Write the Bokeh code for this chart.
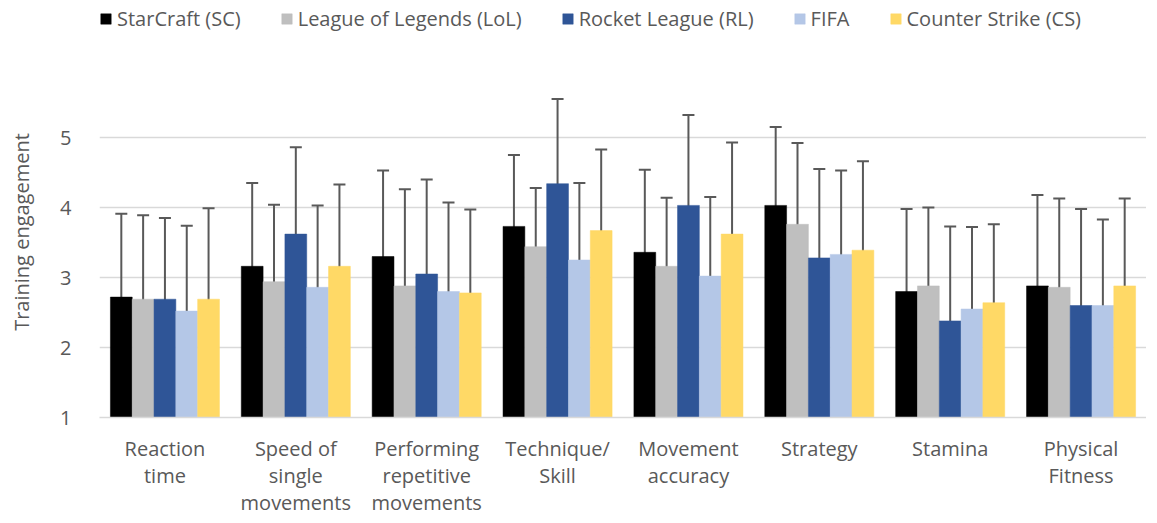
from bokeh.plotting import figure
from bokeh.layouts import column
from bokeh.models import (ColumnDataSource, FactorRange, Whisker, Legend, LegendItem,
                          FixedTicker, TeeHead)
from bokeh.transform import dodge
from bokeh.embed import file_html
from bokeh.resources import INLINE

categories = ["Reaction\ntime", "Speed of\nsingle\nmovements", "Performing\nrepetitive\nmovements",
              "Technique/\nSkill", "Movement\naccuracy", "Strategy", "Stamina", "Physical\nFitness"]

series = ["StarCraft (SC)", "League of Legends (LoL)", "Rocket League (RL)", "FIFA", "Counter Strike (CS)"]
colors = ["#000000", "#BFBFBF", "#2F5597", "#B4C7E7", "#FFD966"]

sc_mean = [2.72, 3.16, 3.30, 3.73, 3.36, 4.03, 2.80, 2.88]
sc_sd = [1.19, 1.19, 1.23, 1.02, 1.18, 1.12, 1.18, 1.30]
lol_mean = [2.69, 2.94, 2.88, 3.44, 3.16, 3.76, 2.88, 2.86]
lol_sd = [1.20, 1.10, 1.38, 0.84, 0.98, 1.16, 1.12, 1.27]
rl_mean = [2.69, 3.62, 3.05, 4.34, 4.03, 3.28, 2.38, 2.60]
rl_sd = [1.16, 1.24, 1.35, 1.21, 1.29, 1.27, 1.35, 1.38]
fifa_mean = [2.52, 2.86, 2.80, 3.25, 3.02, 3.33, 2.55, 2.60]
fifa_sd = [1.22, 1.17, 1.27, 1.10, 1.13, 1.20, 1.17, 1.23]
cs_mean = [2.69, 3.16, 2.78, 3.67, 3.62, 3.39, 2.64, 2.88]
cs_sd = [1.30, 1.17, 1.19, 1.16, 1.31, 1.27, 1.12, 1.25]

means = [sc_mean, lol_mean, rl_mean, fifa_mean, cs_mean]
sds = [sc_sd, lol_sd, rl_sd, fifa_sd, cs_sd]

FONT = "Open Sans"
TXT = "#595959"
W = 1146

p = figure(x_range=FactorRange(*categories, range_padding=0), y_range=(1, 6.3),
           width=W, height=472, output_backend="svg", toolbar_location=None,
           min_border_left=99, min_border_right=0, min_border_top=0, min_border_bottom=0)
p.outline_line_color = None

# legend strip above the chart (its renderers are hidden; only the legend shows)
lg = figure(x_range=FactorRange(*categories, range_padding=0), y_range=(0, 1),
            width=W, height=46, output_backend="svg", toolbar_location=None,
            x_axis_location=None, y_axis_location=None,
            min_border_left=0, min_border_right=0, min_border_top=0, min_border_bottom=0)
lg.outline_line_color = None
lg.grid.visible = False

bw = 1.0 / 6.0
offsets = [-2 * bw, -bw, 0, bw, 2 * bw]
items = []
for name, col, m, s, off in zip(series, colors, means, sds, offsets):
    src = ColumnDataSource(dict(cat=categories, mean=m,
                                lower=[a - b for a, b in zip(m, s)],
                                upper=[a + b for a, b in zip(m, s)]))
    p.vbar(x=dodge("cat", off, range=p.x_range), top="mean", bottom=1, width=bw,
           source=src, fill_color=col, line_color=col, line_width=0.5)
    w = Whisker(source=src, base=dodge("cat", off, range=p.x_range), upper="upper", lower="lower",
                line_color="#595959", line_width=2,
                upper_head=TeeHead(size=12, line_color="#595959", line_width=2),
                lower_head=TeeHead(size=12, line_color="#595959", line_width=2))
    p.add_layout(w)
    r = lg.vbar(x=dodge("cat", off, range=lg.x_range), top="mean", bottom=1, width=bw,
                source=src, fill_color=col, line_color=col, line_width=0.5)
    r.visible = False
    items.append(LegendItem(label=name, renderers=[r]))

legend = Legend(items=items, orientation="horizontal", location=(0, 14),
                label_text_font=FONT, label_text_font_size="20px", label_text_color=TXT,
                glyph_width=13, glyph_height=13, label_standoff=5, spacing=39,
                inactive_fill_alpha=0,
                border_line_color=None, background_fill_alpha=0, padding=0, margin=0)
lg.add_layout(legend)

p.yaxis.ticker = FixedTicker(ticks=[1, 2, 3, 4, 5])
p.ygrid.ticker = FixedTicker(ticks=[1, 2, 3, 4, 5])
p.ygrid.grid_line_color = "#D9D9D9"
p.ygrid.grid_line_width = 1.5
p.xgrid.grid_line_color = None

p.yaxis.axis_line_color = None
p.yaxis.major_tick_line_color = None
p.yaxis.minor_tick_line_color = None
p.yaxis.major_label_text_font = FONT
p.yaxis.major_label_text_font_size = "20px"
p.yaxis.major_label_text_color = TXT
p.yaxis.major_label_standoff = 22
p.yaxis.axis_label = "Training engagement"
p.yaxis.axis_label_text_font = FONT
p.yaxis.axis_label_text_font_size = "20px"
p.yaxis.axis_label_text_font_style = "normal"
p.yaxis.axis_label_text_color = TXT
p.yaxis.axis_label_standoff = 22

p.xaxis.axis_line_color = "#D9D9D9"
p.xaxis.axis_line_width = 1.5
p.xaxis.major_tick_line_color = None
p.xaxis.minor_tick_line_color = None
p.xaxis.major_label_text_font = FONT
p.xaxis.major_label_text_font_size = "20px"
p.xaxis.major_label_text_line_height = 1.0
p.xaxis.major_label_text_color = TXT
p.xaxis.major_label_standoff = 11
p.xaxis.major_label_orientation = "horizontal"

layout = column(lg, p, spacing=0)
open("out.html", "w").write(file_html(layout, INLINE))
